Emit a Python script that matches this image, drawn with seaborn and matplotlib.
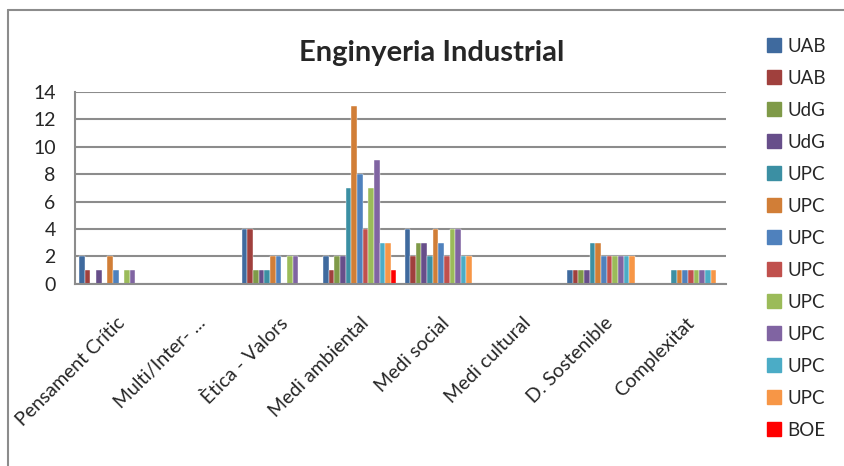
import matplotlib
matplotlib.use('Agg')

import pandas as pd
import matplotlib.pyplot as plt
import seaborn as sns
from matplotlib.lines import Line2D

# categories and series
categories = ["Pensament Crític", "Multi/Inter- ...", "Ètica - Valors", "Medi ambiental",
              "Medi social", "Medi cultural", "D. Sostenible", "Complexitat"]
series_names = ["UAB", "UAB", "UdG", "UdG", "UPC", "UPC", "UPC", "UPC", "UPC", "UPC", "UPC", "UPC", "BOE"]

uab_1 = [2, 0, 4, 2, 4, 0, 1, 0]
uab_2 = [1, 0, 4, 1, 2, 0, 1, 0]
udg_1 = [0, 0, 1, 2, 3, 0, 1, 0]
udg_2 = [1, 0, 1, 2, 3, 0, 1, 0]
upc_1 = [0, 0, 1, 7, 2, 0, 3, 1]
upc_2 = [2, 0, 2, 13, 4, 0, 3, 1]
upc_3 = [1, 0, 2, 8, 3, 0, 2, 1]
upc_4 = [0, 0, 0, 4, 2, 0, 2, 1]
upc_5 = [1, 0, 2, 7, 4, 0, 2, 1]
upc_6 = [1, 0, 2, 9, 4, 0, 2, 1]
upc_7 = [0, 0, 0, 3, 2, 0, 2, 1]
upc_8 = [0, 0, 0, 3, 2, 0, 2, 1]
boe = [0, 0, 0, 1, 0, 0, 0, 0]

colors = ["#3F6A9E", "#A0403D", "#7F9A48", "#674E8A", "#3B8FA3", "#D17E37",
          "#4F81BD", "#C0504D", "#9BBB59", "#8064A2", "#4BACC6", "#F79646", "#FF0000"]

all_series = [uab_1, uab_2, udg_1, udg_2, upc_1, upc_2, upc_3, upc_4,
              upc_5, upc_6, upc_7, upc_8, boe]

# long table, each series gets a unique key so duplicates stay separate
rows = []
for i, vals in enumerate(all_series):
    for cat, v in zip(categories, vals):
        rows.append({"Category": cat, "Series": f"s{i}", "Value": v})
df = pd.DataFrame(rows)

sns.set_style("white")
plt.rcParams['font.family'] = ['Lato', 'DejaVu Sans']

fig = plt.figure(figsize=(8.44, 4.66), dpi=100)
ax = fig.add_axes([0.089, 0.391, 0.771, 0.412])

palette = {f"s{i}": c for i, c in enumerate(colors)}
sns.barplot(data=df, x="Category", y="Value", hue="Series", palette=palette,
            width=0.9, ax=ax, legend=False, edgecolor="white", linewidth=0.3,
            saturation=1)

ax.set_ylim(0, 14)
ax.set_xlim(-0.5, len(categories) - 0.5)
ax.set_yticks(range(0, 15, 2))
ax.yaxis.grid(True, color="#8C8C8C", linewidth=1.5)
ax.set_axisbelow(True)
ax.set_xlabel("")
ax.set_ylabel("")

for side in ["top", "right"]:
    ax.spines[side].set_visible(False)
for side in ["left", "bottom"]:
    ax.spines[side].set_color("#8C8C8C")
    ax.spines[side].set_linewidth(1.5)

# ticks between categories like Excel
ax.set_xticks([i - 0.5 for i in range(len(categories) + 1)], minor=True)
ax.tick_params(axis="x", which="minor", length=6, width=1.3, color="#8C8C8C")
ax.tick_params(axis="x", which="major", length=0, pad=22)
ax.set_xticks(range(len(categories)))
ax.set_xticklabels(categories, rotation=45, ha="right", rotation_mode="anchor",
                   fontsize=14)
ax.tick_params(axis="y", length=0, pad=14, labelsize=14)

fig.text(0.511, 0.887, "Enginyeria Industrial", ha="center", va="center",
         fontsize=21, fontweight="bold")

handles = [plt.Rectangle((0, 0), 1, 1, color=c) for c in colors]
fig.legend(handles, series_names, loc="upper left", bbox_to_anchor=(0.9, 0.935),
           frameon=False, fontsize=13.5, handlelength=0.75, handleheight=0.75,
           handletextpad=0.35, labelspacing=0.8, borderaxespad=0)

# chart frame edges visible in the crop
fig.add_artist(Line2D([0.0095, 0.0095], [0, 0.979], color="#8C8C8C", linewidth=1.5))
fig.add_artist(Line2D([0.0095, 1.0], [0.979, 0.979], color="#8C8C8C", linewidth=1.5))

plt.savefig("out.png", dpi=100)
